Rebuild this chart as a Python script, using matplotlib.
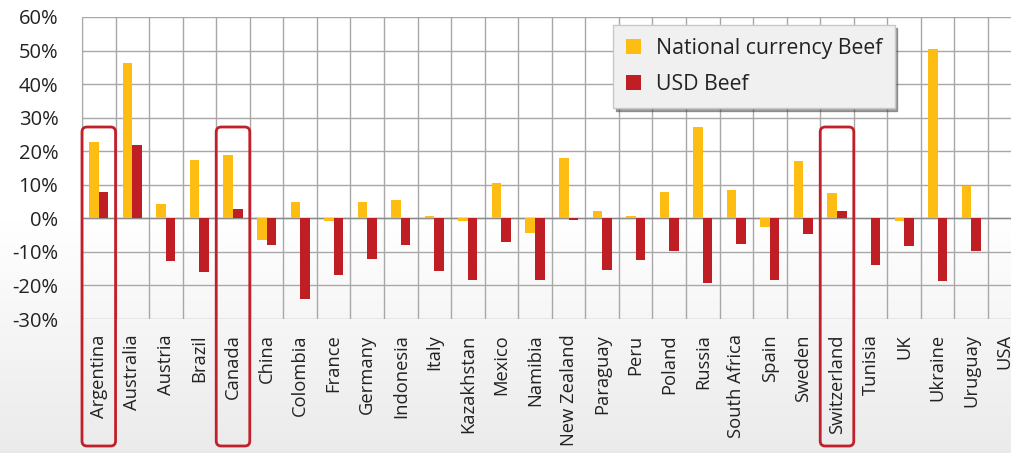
import numpy as np
import matplotlib
matplotlib.use("Agg")
import matplotlib.pyplot as plt
from matplotlib.patches import FancyBboxPatch
from matplotlib.transforms import blended_transform_factory

countries = ["Argentina", "Australia", "Austria", "Brazil", "Canada", "China", "Colombia",
             "France", "Germany", "Indonesia", "Italy", "Kazakhstan", "Mexico", "Namibia",
             "New Zealand", "Paraguay", "Peru", "Poland", "Russia", "South Africa", "Spain",
             "Sweden", "Switzerland", "Tunisia", "UK", "Ukraine", "Uruguay", "USA"]
national_beef = [22.6, 46.2, 4.4, 17.4, 19.0, -6.4, 5.0, -0.7, 5.0, 5.4, 0.7, -0.7, 10.5, -4.4,
                 17.9, 2.3, 0.8, 7.9, 27.2, 8.4, -2.5, 17.2, 7.6, np.nan, -0.8, 50.4, 9.6, np.nan]
usd_beef = [7.8, 21.9, -12.6, -16.1, 2.8, -7.8, -24.0, -17.0, -12.2, -7.8, -15.8, -18.4, -7.2,
            -18.4, -0.6, -15.4, -12.4, -9.8, -19.3, -7.5, -18.4, -4.8, 2.2, -13.8, -8.1, -18.7,
            -9.7, np.nan]
highlighted = ["Argentina", "Canada", "Switzerland"]
yticks = [-30, -20, -10, 0, 10, 20, 30, 40, 50, 60]

YELLOW = "#FDBD13"
RED = "#BE1E24"
FONT = "Open Sans"
plt.rcParams["font.family"] = [FONT, "DejaVu Sans"]

W, H = 1011, 453
fig = plt.figure(figsize=(W / 100, H / 100), dpi=100)

# background gradient
bg = fig.add_axes([0, 0, 1, 1], zorder=-10)
yy = np.arange(H)
start = 220
g = np.where(yy > start, 1 - (yy - start) / (H - start) * 0.08, 1.0)
bg.imshow(np.dstack([g, g, g]).reshape(H, 1, 3), aspect="auto", extent=[0, 1, 0, 1])
bg.axis("off")

n = len(countries)
cat_w = (988 - 82) / 27.0
ax_left = 82 / W
ax_bottom = 1 - 319 / H
ax_top = 1 - 17 / H
ax = fig.add_axes([ax_left, ax_bottom, n * cat_w / W, ax_top - ax_bottom])
ax.patch.set_alpha(0)

x = np.arange(n)
bw = 0.285
ax.bar(x - bw / 2, national_beef, bw, color=YELLOW, linewidth=0,
       label="National currency Beef", zorder=3)
ax.bar(x + bw / 2, usd_beef, bw, color=RED, linewidth=0,
       label="USD Beef", zorder=3)

ax.set_xlim(-0.5, n - 0.5)
ax.set_ylim(-30, 60)
ax.set_yticks(yticks)
ax.set_yticklabels([f"{v}%" for v in yticks], fontsize=14.5, color="#222222")
ax.set_xticks(x)
ax.set_xticklabels(countries, rotation=90, fontsize=13.2, color="#222222", va="top", ha="center")
ax.set_xticks(np.arange(-0.5, n, 1), minor=True)
ax.tick_params(axis="x", which="both", length=0, pad=11)
ax.tick_params(axis="y", length=0, pad=17)
ax.grid(True, which="minor", axis="x", color="#A8A8A8", linewidth=1.0, zorder=0)
ax.grid(True, which="major", axis="y", color="#A8A8A8", linewidth=1.0, zorder=0)
ax.grid(False, which="major", axis="x")
for s in ["top", "right", "bottom"]:
    ax.spines[s].set_visible(False)
ax.spines["left"].set_color("#A8A8A8")
ax.axhline(0, color="#8C8C8C", linewidth=1.0, zorder=2)

# highlight boxes
tr = blended_transform_factory(ax.transData, fig.transFigure)
y0 = 1 - 446 / H
y1 = 1 - 127 / H
for c in highlighted:
    i = countries.index(c)
    rx = 0.15
    box = FancyBboxPatch((i - 0.5 + rx, y0 + rx * 0.0736), 1 - 2 * rx, (y1 - y0) - 2 * rx * 0.0736,
                         boxstyle=f"round,pad={rx},rounding_size={rx}", mutation_aspect=0.0736,
                         transform=tr, fill=False, edgecolor="#C0202A", linewidth=2.0,
                         clip_on=False, zorder=5)
    fig.add_artist(box)

leg = ax.legend(loc="upper left", bbox_to_anchor=(613 / W, 1 - 25 / H), bbox_transform=fig.transFigure,
                borderaxespad=0, fontsize=15.3, frameon=True, fancybox=False, shadow=True,
                handlelength=0.7, handleheight=0.7, handletextpad=0.7, labelspacing=0.72,
                borderpad=0.6, labelcolor="#222222")
leg.get_frame().set_facecolor("#F0F0F0")
leg.get_frame().set_edgecolor("#C8C8C8")
leg.set_zorder(6)

fig.savefig("out.png", dpi=100)
